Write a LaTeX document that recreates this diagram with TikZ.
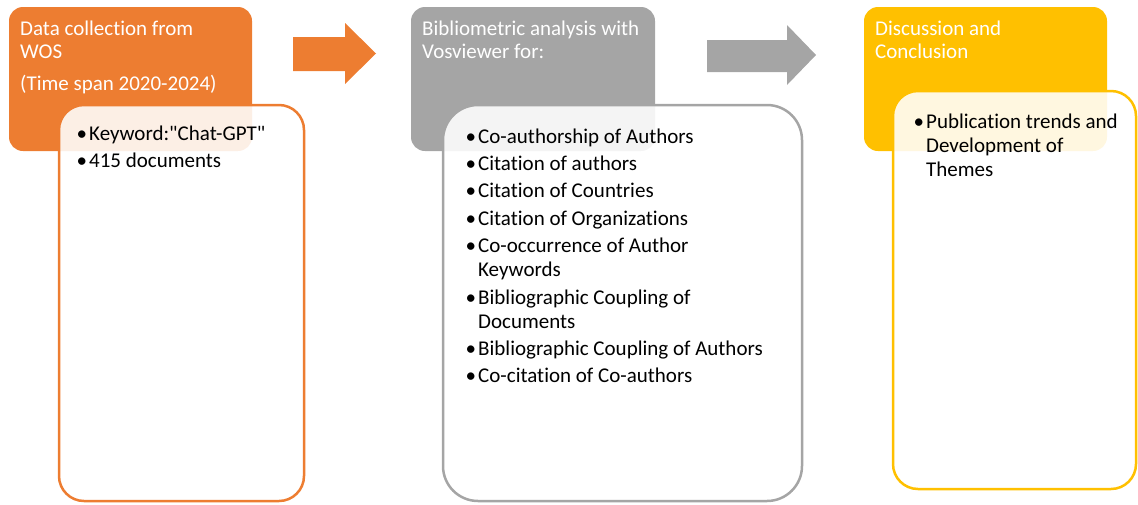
\documentclass[tikz,border=0pt]{standalone}
\usepackage{fontspec}
\setmainfont{Carlito}[Ligatures={TeX,NoCommon}]
\newfontfamily\qfont{Carlito}
\definecolor{cOrange}{HTML}{ED7D31}
\definecolor{cGray}{HTML}{A5A5A5}
\definecolor{cYellow}{HTML}{FFC000}
\newcommand{\bitem}[1]{\par\hangindent=11pt\hangafter=1\noindent\makebox[11pt][l]{\hspace{-1.5pt}\textbullet}#1}
\newcommand{\blist}[2]{\parbox[t]{#1}{\fontsize{21}{24}\selectfont\setlength{\parskip}{3.4pt}#2}}
\newcommand{\hlines}[1]{\parbox[t]{240pt}{\fontsize{21}{23}\selectfont\raggedright #1}}
\newcommand{\sq}{{\qfont\char"0022}}
\begin{document}
\begin{tikzpicture}[x=1pt,y=-1pt,
  headbox/.style={line width=0pt, rounded corners=14pt},
  listbox/.style={line width=2.5pt, fill=white, fill opacity=0.88},
  headtext/.style={anchor=base west, inner sep=0pt, text=white},
  listtext/.style={anchor=base west, inner sep=0pt, text=black},
  bigarrow/.style={draw=none}]
\useasboundingbox (0,0) rectangle (1138,504);
% column 1
\fill[cOrange, headbox] (9,7) rectangle (252,151);
\node[headtext] (h1) at (20,35) {\hlines{Data collection from\\WOS}};
\node[headtext] (h1b) at (20,90) {\hlines{(Time span 2020-2024)}};
\draw[listbox, draw=cOrange, rounded corners=25pt] (59,105) rectangle (304,501);
\node[listtext] (l1) at (78,140) {\blist{220pt}{\bitem{Keyword:\sq Chat-GPT\sq}\bitem{415 documents}}};
% arrow 1
\fill[cOrange, bigarrow] (293,37) -- (345,37) -- (345,23) -- (376,53.5) -- (345,84) -- (345,71) -- (293,71) -- cycle;
% column 2
\fill[cGray, headbox] (411,7) rectangle (655,151);
\node[headtext] (h2) at (422,35) {\hlines{Bibliometric analysis with\\Vosviewer for:}};
\draw[listbox, draw=cGray, rounded corners=35pt] (443,105) rectangle (802,501);
\node[listtext] (l2) at (467,143) {\blist{330pt}{%
\bitem{Co-authorship of Authors}%
\bitem{Citation of authors}%
\bitem{Citation of Countries}%
\bitem{Citation of Organizations}%
\bitem{Co-occurrence of Author\newline Keywords}%
\bitem{Bibliographic Coupling of\newline Documents}%
\bitem{Bibliographic Coupling of Authors}%
\bitem{Co-citation of Co-authors}}};
% arrow 2
\fill[cGray, bigarrow] (707,40) -- (787,40) -- (787,25) -- (816,55) -- (787,85) -- (787,72) -- (707,72) -- cycle;
% column 3
\fill[cYellow, headbox] (864,7) rectangle (1107,151);
\node[headtext] (h3) at (875,35) {\hlines{Discussion and\\Conclusion}};
\draw[listbox, draw=cYellow, rounded corners=25pt] (893,91) rectangle (1136,489);
\node[listtext] (l3) at (915,128) {\blist{215pt}{\bitem{Publication trends and\newline Development of\newline Themes}}};
\end{tikzpicture}
\end{document}
